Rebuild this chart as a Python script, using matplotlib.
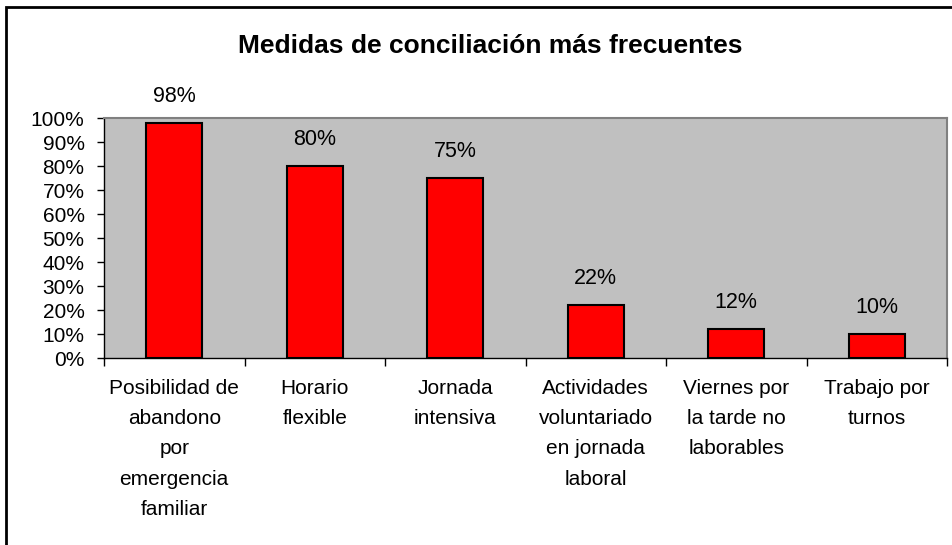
import matplotlib
matplotlib.use('Agg')
import matplotlib.pyplot as plt
from matplotlib.patches import Rectangle

# Datos del gráfico
categorias = ['Posibilidad de\nabandono\npor\nemergencia\nfamiliar',
              'Horario\nflexible',
              'Jornada\nintensiva',
              'Actividades\nvoluntariado\nen jornada\nlaboral',
              'Viernes por\nla tarde no\nlaborables',
              'Trabajo por\nturnos']
porcentajes = [98, 80, 75, 22, 12, 10]
ticks_y = [0, 10, 20, 30, 40, 50, 60, 70, 80, 90, 100]
titulo = 'Medidas de conciliación más frecuentes'

plt.rcParams['font.family'] = ['Liberation Sans', 'DejaVu Sans']

W, H = 952, 545
fig = plt.figure(figsize=(W / 100, H / 100), dpi=100)
ax = fig.add_axes([104 / W, 1 - 358 / H, (947 - 104) / W, (358 - 118) / H])

# marco exterior
fig.patches.append(Rectangle((6 / W, -0.1), 1.1, 1 - 7 / H + 0.1, transform=fig.transFigure,
                             fill=False, edgecolor='black', linewidth=2))

x = list(range(len(porcentajes)))
ax.bar(x, porcentajes, width=0.4, color='#ff0000', edgecolor='black', linewidth=1.5, zorder=3)
ax.set_facecolor('#c0c0c0')
ax.set_xlim(-0.5, len(porcentajes) - 0.5)
ax.set_ylim(0, 100)

for xi, v in zip(x, porcentajes):
    ax.annotate(f'{v}%', (xi, v), xytext=(0, 19), textcoords='offset points',
                ha='center', va='center', fontsize=15.5)

ax.set_yticks(ticks_y)
ax.set_yticklabels([f'{t}%' for t in ticks_y], fontsize=15)
ax.set_xticks([i - 0.5 for i in range(len(porcentajes) + 1)])
ax.set_xticklabels([])
ax.set_xticks(x, minor=True)
ax.set_xticklabels(categorias, minor=True, fontsize=15, linespacing=1.75, va='top')
ax.tick_params(axis='x', which='major', direction='out', length=6, width=1)
ax.tick_params(axis='x', which='minor', length=0, pad=15)
ax.tick_params(axis='y', direction='out', length=5, width=1, pad=9)

for s in ['top', 'right']:
    ax.spines[s].set_color('#808080')
    ax.spines[s].set_linewidth(1.5)
for s in ['left', 'bottom']:
    ax.spines[s].set_color('black')
    ax.spines[s].set_linewidth(1)

fig.text(490 / W, 1 - 46 / H, titulo, ha='center', va='center', fontsize=19, fontweight='bold')

fig.savefig('out.png', dpi=100)
